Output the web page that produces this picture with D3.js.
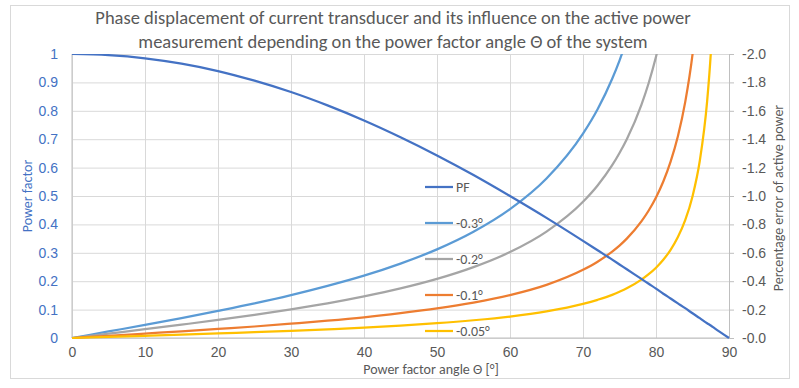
<!DOCTYPE html>
<html>
<head>
<meta charset="utf-8">
<script src="https://cdn.jsdelivr.net/npm/d3@7"></script>
<style>
  body { margin: 0; background: #fff; }
  svg { font-family: Carlito, Calibri, Lato, sans-serif; }
  .grid line { stroke: #d9d9d9; stroke-width: 1; }
  .grid path { display: none; }
  .line { fill: none; stroke-width: 2.25; }
</style>
</head>
<body>
<div id="chart"></div>
<script>
"use strict";

// angle of the system in degrees
var angles = [0, 5, 10, 15, 20, 25, 30, 35, 40, 45, 50, 55, 60, 65, 70, 72, 74, 75, 76, 78, 79, 80, 81, 82, 83, 84, 85, 86, 87, 87.5, 88, 90];

// power factor (left axis)
var pf = [1, 0.996, 0.985, 0.966, 0.94, 0.906, 0.866, 0.819, 0.766, 0.707, 0.643, 0.574, 0.5, 0.423, 0.342, 0.309, 0.276, 0.259, 0.242, 0.208, 0.191, 0.174, 0.156, 0.139, 0.122, 0.105, 0.087, 0.07, 0.052, 0.044, 0.035, 0];

// percentage error of active power (right axis), null = off the chart
var err03 = [0, -0.046, -0.092, -0.14, -0.191, -0.244, -0.302, -0.367, -0.439, -0.524, -0.624, -0.748, -0.907, -1.123, -1.439, -1.611, -1.826, -1.954, -2.1, null, null, null, null, null, null, null, null, null, null, null, null, null];
var err02 = [0, -0.031, -0.062, -0.094, -0.127, -0.163, -0.202, -0.244, -0.293, -0.349, -0.416, -0.499, -0.605, -0.749, -0.959, -1.074, -1.217, -1.303, -1.4, -1.642, -1.796, -1.98, -2.204, null, null, null, null, null, null, null, null, null];
var err01 = [0, -0.015, -0.031, -0.047, -0.064, -0.081, -0.101, -0.122, -0.146, -0.175, -0.208, -0.249, -0.302, -0.374, -0.48, -0.537, -0.609, -0.651, -0.7, -0.821, -0.898, -0.99, -1.102, -1.242, -1.421, -1.661, -1.995, -2.496, null, null, null, null];
var err005 = [0, -0.008, -0.015, -0.023, -0.032, -0.041, -0.05, -0.061, -0.073, -0.087, -0.104, -0.125, -0.151, -0.187, -0.24, -0.269, -0.304, -0.326, -0.35, -0.411, -0.449, -0.495, -0.551, -0.621, -0.711, -0.83, -0.997, -1.248, -1.665, -1.999, -2.499, null];

var xTicks = [0, 10, 20, 30, 40, 50, 60, 70, 80, 90];
var pfTicks = [0, 0.1, 0.2, 0.3, 0.4, 0.5, 0.6, 0.7, 0.8, 0.9, 1];
var errTicks = [0, -0.2, -0.4, -0.6, -0.8, -1.0, -1.2, -1.4, -1.6, -1.8, -2.0];

var seriesNames = ["PF", "-0.3°", "-0.2°", "-0.1°", "-0.05°"];
var seriesColors = ["#4472c4", "#5b9bd5", "#a5a5a5", "#ed7d31", "#ffc000"];

var titleLines = [
  "Phase displacement of current transducer and its influence on the active power",
  "measurement depending on the power factor angle Θ of the system"
];

(function() {
  var W = 799, H = 388;
  var margin = {top: 54, right: 70, bottom: 50, left: 72},
      width = 729 - margin.left,
      height = 338 - margin.top;

  var x = d3.scaleLinear().domain([0, 90]).range([0, width]),
      yL = d3.scaleLinear().domain([0, 1]).range([height, 0]),
      yR = d3.scaleLinear().domain([0, -2]).range([height, 0]);

  var svg = d3.select("#chart").append("svg")
    .attr("width", W)
    .attr("height", H);

  // chart border
  svg.append("rect")
    .attr("x", 10.5).attr("y", 5.5)
    .attr("width", 779).attr("height", 373)
    .attr("fill", "#fff")
    .attr("stroke", "#d9d9d9");

  var g = svg.append("g")
    .attr("transform", "translate(" + margin.left + "," + margin.top + ")");

  // gridlines
  g.append("g").attr("class", "grid")
    .call(d3.axisLeft(yL).tickValues(pfTicks).tickSize(-width).tickFormat(""));
  g.append("g").attr("class", "grid")
    .attr("transform", "translate(0," + height + ")")
    .call(d3.axisBottom(x).tickValues(xTicks).tickSize(-height).tickFormat(""));

  // axis lines
  g.append("line").attr("x1", 0).attr("x2", width).attr("y1", height).attr("y2", height)
    .attr("stroke", "#bfbfbf");
  g.append("line").attr("x1", 0).attr("x2", 0).attr("y1", 0).attr("y2", height)
    .attr("stroke", "#bfbfbf");

  // x axis labels
  var xAxis = g.append("g")
    .attr("transform", "translate(0," + height + ")")
    .call(d3.axisBottom(x).tickValues(xTicks).tickSize(0).tickPadding(9));
  xAxis.select(".domain").remove();
  xAxis.selectAll("text").attr("fill", "#595959").style("font-size", "14px").style("font-family", null);

  // left axis labels
  var yAxisL = g.append("g")
    .call(d3.axisLeft(yL).tickValues(pfTicks).tickSize(0).tickPadding(14).tickFormat(d3.format("")));
  yAxisL.select(".domain").remove();
  yAxisL.selectAll("text").attr("fill", "#4472c4").style("font-size", "14px").style("font-family", null);

  // right axis
  var yAxisR = g.append("g")
    .attr("transform", "translate(" + width + ",0)")
    .call(d3.axisRight(yR).tickValues(errTicks).tickSize(5).tickPadding(8)
      .tickFormat(function(d) { return "-" + d3.format(".1f")(Math.abs(d)); }));
  yAxisR.select(".domain").attr("stroke", "#bfbfbf");
  yAxisR.selectAll(".tick line").attr("stroke", "#bfbfbf");
  yAxisR.selectAll("text").attr("fill", "#595959").style("font-size", "14px").style("font-family", null);

  // lines
  g.append("clipPath").attr("id", "plot-clip")
    .append("rect").attr("x", -2).attr("y", 0).attr("width", width + 4).attr("height", height + 2);

  var plot = g.append("g").attr("clip-path", "url(#plot-clip)");

  var errSeries = [err03, err02, err01, err005];

  errSeries.forEach(function(vals, i) {
    var pts = angles.map(function(a, j) { return [a, vals[j]]; })
      .filter(function(p) { return p[1] !== null; });
    var line = d3.line()
      .x(function(d) { return x(d[0]); })
      .y(function(d) { return yR(d[1]); })
      .curve(d3.curveMonotoneX);
    plot.append("path")
      .datum(pts)
      .attr("class", "line")
      .attr("stroke", seriesColors[i + 1])
      .attr("d", line);
  });

  var pfLine = d3.line()
    .x(function(d, j) { return x(angles[j]); })
    .y(function(d) { return yL(d); })
    .curve(d3.curveMonotoneX);
  plot.append("path")
    .datum(pf)
    .attr("class", "line")
    .attr("stroke", seriesColors[0])
    .attr("d", pfLine);

  // legend
  var legend = g.append("g").attr("transform", "translate(" + (425 - margin.left) + "," + (187 - margin.top) + ")");
  seriesNames.forEach(function(name, i) {
    var row = legend.append("g").attr("transform", "translate(0," + (i * 36) + ")");
    row.append("line").attr("x1", 0).attr("x2", 28).attr("y1", 0).attr("y2", 0)
      .attr("stroke", seriesColors[i]).attr("stroke-width", 2.25);
    row.append("text").attr("x", 31).attr("y", 0).attr("dy", "0.35em")
      .attr("fill", "#595959").style("font-size", "14px").text(name);
  });

  // titles
  svg.selectAll(".title").data(titleLines).enter().append("text")
    .attr("class", "title")
    .attr("x", 393).attr("y", function(d, i) { return 24 + i * 24; })
    .attr("text-anchor", "middle")
    .attr("fill", "#595959")
    .style("font-size", "18.5px")
    .text(function(d) { return d; });

  svg.append("text")
    .attr("x", 431).attr("y", 374)
    .attr("text-anchor", "middle")
    .attr("fill", "#595959")
    .style("font-size", "14px")
    .text("Power factor angle Θ [°]");

  svg.append("text")
    .attr("transform", "translate(32,196) rotate(-90)")
    .attr("text-anchor", "middle")
    .attr("fill", "#4472c4")
    .style("font-size", "14px")
    .text("Power factor");

  svg.append("text")
    .attr("transform", "translate(783,198) rotate(-90)")
    .attr("text-anchor", "middle")
    .attr("fill", "#595959")
    .style("font-size", "14px")
    .text("Percentage error of active power");
})();
</script>
</body>
</html>
